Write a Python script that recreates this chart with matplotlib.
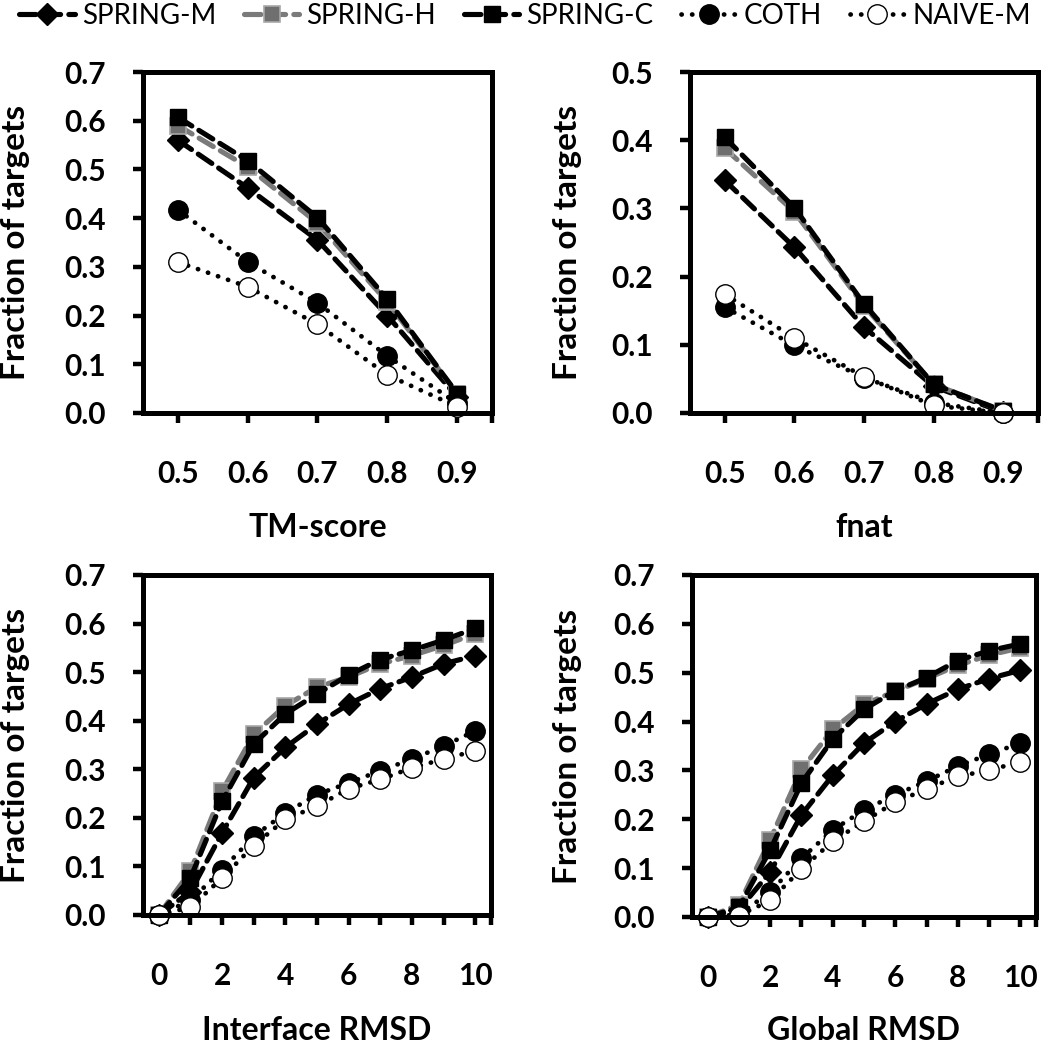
import matplotlib
matplotlib.use("Agg")
import matplotlib.pyplot as plt

# ---------------------------------------------------------------------------
# DATA
# ---------------------------------------------------------------------------

SERIES = ["SPRING-M", "SPRING-H", "SPRING-C", "COTH", "NAIVE-M"]

# TM-score panel
tm_x = [0.5, 0.6, 0.7, 0.8, 0.9]
tm_spring_m = [0.560, 0.462, 0.355, 0.200, 0.033]
tm_spring_h = [0.590, 0.505, 0.390, 0.228, 0.040]
tm_spring_c = [0.607, 0.518, 0.401, 0.234, 0.040]
tm_coth = [0.417, 0.310, 0.226, 0.117, 0.020]
tm_naive_m = [0.310, 0.259, 0.182, 0.078, 0.013]

# fnat panel
fn_x = [0.5, 0.6, 0.7, 0.8, 0.9]
fn_spring_m = [0.341, 0.243, 0.126, 0.039, 0.001]
fn_spring_h = [0.388, 0.295, 0.157, 0.042, 0.003]
fn_spring_c = [0.404, 0.301, 0.160, 0.042, 0.003]
fn_coth = [0.155, 0.099, 0.052, 0.015, 0.000]
fn_naive_m = [0.174, 0.110, 0.053, 0.011, 0.000]

# Interface RMSD panel
ir_x = [0, 1, 2, 3, 4, 5, 6, 7, 8, 9, 10]
ir_spring_m = [0.0, 0.048, 0.169, 0.283, 0.345, 0.393, 0.434, 0.466, 0.490, 0.517, 0.534]
ir_spring_h = [0.0, 0.090, 0.255, 0.372, 0.431, 0.469, 0.490, 0.517, 0.534, 0.555, 0.579]
ir_spring_c = [0.0, 0.076, 0.234, 0.352, 0.414, 0.455, 0.494, 0.526, 0.545, 0.566, 0.590]
ir_coth = [0.0, 0.030, 0.093, 0.162, 0.210, 0.248, 0.272, 0.297, 0.321, 0.348, 0.379]
ir_naive_m = [0.0, 0.016, 0.076, 0.143, 0.197, 0.224, 0.260, 0.279, 0.303, 0.321, 0.338]

# Global RMSD panel
gr_x = [0, 1, 2, 3, 4, 5, 6, 7, 8, 9, 10]
gr_spring_m = [0.0, 0.015, 0.092, 0.209, 0.290, 0.356, 0.400, 0.436, 0.466, 0.488, 0.505]
gr_spring_h = [0.0, 0.025, 0.158, 0.302, 0.384, 0.435, 0.462, 0.488, 0.515, 0.536, 0.551]
gr_spring_c = [0.0, 0.020, 0.137, 0.274, 0.364, 0.425, 0.463, 0.490, 0.525, 0.545, 0.559]
gr_coth = [0.0, 0.005, 0.051, 0.120, 0.178, 0.219, 0.250, 0.278, 0.309, 0.333, 0.356]
gr_naive_m = [0.0, 0.003, 0.034, 0.098, 0.155, 0.196, 0.235, 0.262, 0.288, 0.300, 0.318]

# ---------------------------------------------------------------------------
# STYLE
# ---------------------------------------------------------------------------

FONT = "Lato"
GRAY = "#7a7a7a"

DASH = (0, (3.2, 1.6))
DOT = (0, (0.05, 2.2))

STYLES = {
    "SPRING-M": dict(color="black", ls=DASH, lw=3.7, marker="D", ms=11,
                     mfc="black", mec="black", mew=1),
    "SPRING-H": dict(color=GRAY, ls=DASH, lw=3.7, marker="s", ms=12,
                     mfc="#6f6f6f", mec="#a8a8a8", mew=1.2),
    "SPRING-C": dict(color="black", ls=DASH, lw=3.7, marker="s", ms=12,
                     mfc="black", mec="black", mew=1),
    "COTH": dict(color="black", ls=DOT, lw=3.4, marker="o", ms=14,
                 mfc="black", mec="black", mew=1),
    "NAIVE-M": dict(color="black", ls=DOT, lw=3.4, marker="o", ms=14,
                    mfc="white", mec="black", mew=1),
}

W, H = 1050, 1046


def axes_at(fig, left, right, top, bottom):
    return fig.add_axes([left / W, 1 - bottom / H, (right - left) / W, (bottom - top) / H])


def draw_panel(ax, x, ys, xlim, xticks, xlabels, ymax, xpad):
    for name, y in zip(SERIES, ys):
        st = STYLES[name]
        ax.plot(x, y, label=name, dash_capstyle="round", solid_capstyle="round",
                clip_on=False, **st)
    ax.set_xlim(*xlim)
    ax.set_ylim(0, ymax)
    ax.set_xticks(xticks)
    ax.set_xticklabels(xlabels)
    nt = int(round(ymax * 10)) + 1
    yt = [i / 10 for i in range(nt)]
    ax.set_yticks(yt)
    ax.set_yticklabels([f"{v:.1f}" for v in yt])
    for sp in ax.spines.values():
        sp.set_linewidth(3.6)
        sp.set_color("black")
    ax.tick_params(axis="both", direction="out", length=7, width=3.2, color="black",
                   labelsize=21.5)
    ax.tick_params(axis="x", pad=xpad)
    ax.tick_params(axis="y", pad=20)
    for lab in ax.get_xticklabels() + ax.get_yticklabels():
        lab.set_fontfamily(FONT)
        lab.set_fontweight("bold")


fig = plt.figure(figsize=(W / 100, H / 100), dpi=100)

# TM-score
ax1 = axes_at(fig, 143, 492, 72, 413)
draw_panel(ax1, tm_x,
           [tm_spring_m, tm_spring_h, tm_spring_c, tm_coth, tm_naive_m],
           (0.45, 0.95), tm_x + [0.95], [f"{v:.1f}" for v in tm_x] + [""],
           0.7, 27)

# fnat
ax2 = axes_at(fig, 690, 1038, 72, 413)
draw_panel(ax2, fn_x,
           [fn_spring_m, fn_spring_h, fn_spring_c, fn_coth, fn_naive_m],
           (0.45, 0.95), fn_x + [0.95], [f"{v:.1f}" for v in fn_x] + [""],
           0.5, 27)

# Interface RMSD
ax3 = axes_at(fig, 143, 491, 575, 915)
draw_panel(ax3, ir_x,
           [ir_spring_m, ir_spring_h, ir_spring_c, ir_coth, ir_naive_m],
           (-0.5, 10.5), ir_x + [10.5],
           [str(v) if v % 2 == 0 else "" for v in ir_x] + [""],
           0.7, 27)

# Global RMSD
ax4 = axes_at(fig, 692, 1036, 575, 917)
draw_panel(ax4, gr_x,
           [gr_spring_m, gr_spring_h, gr_spring_c, gr_coth, gr_naive_m],
           (-0.5, 10.5), gr_x + [10.5],
           [str(v) if v % 2 == 0 else "" for v in gr_x] + [""],
           0.7, 27)

# axis titles (placed by baseline so they fit inside the canvas)
for ax, text, base in [(ax1, "TM-score", 537), (ax2, "fnat", 537),
                       (ax3, "Interface RMSD", 1040), (ax4, "Global RMSD", 1040)]:
    pos = ax.get_position()
    fig.text(pos.x0 + pos.width / 2, 1 - base / H, text, ha="center", va="baseline",
             fontsize=23, fontweight="bold", fontfamily=FONT)

# y labels
for ax, xc in [(ax1, 16), (ax2, 568), (ax3, 16), (ax4, 568)]:
    pos = ax.get_position()
    fig.text(xc / W, pos.y0 + pos.height / 2, "Fraction of targets", rotation=90,
             ha="center", va="center", fontsize=24, fontweight="bold", fontfamily=FONT)

# legend across the top
handles, labels = ax1.get_legend_handles_labels()
fig.legend(handles, labels, loc="center", bbox_to_anchor=(0.5, 1 - 16 / H), ncol=5,
           frameon=False, numpoints=1, handlelength=2.0, handletextpad=0.25,
           columnspacing=1.0, borderpad=0, prop=dict(family=FONT, size=20))

plt.savefig("out.png", dpi=100)
